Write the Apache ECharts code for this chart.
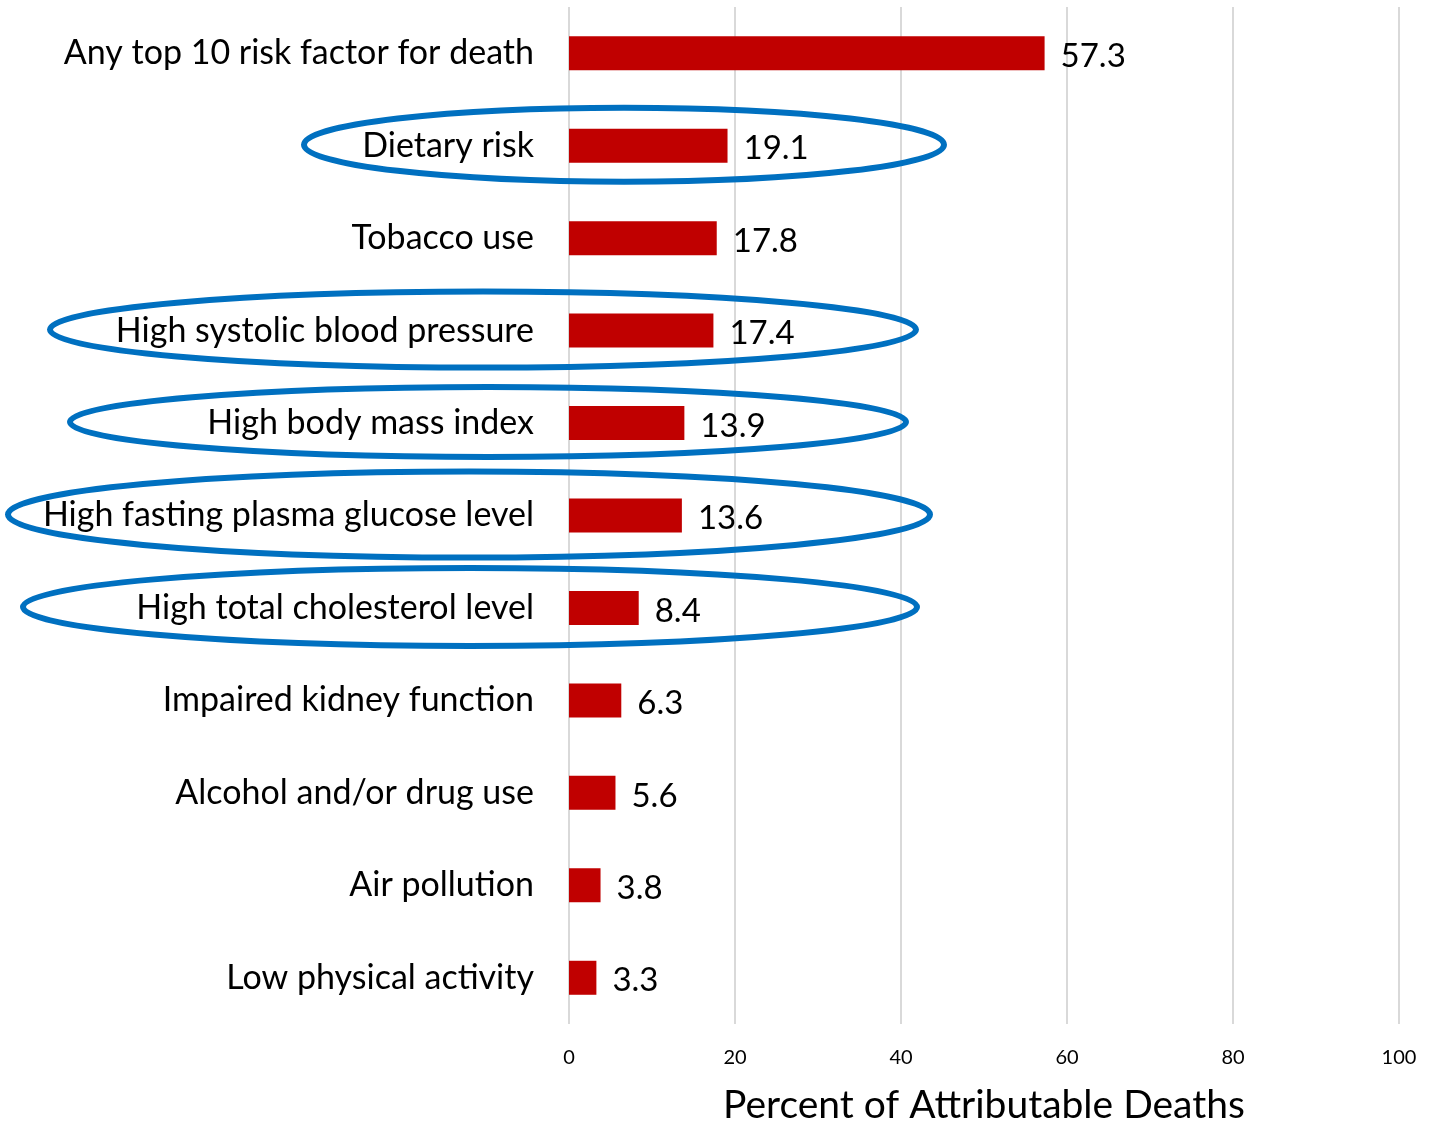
<!DOCTYPE html>
<html>
<head>
<meta charset="utf-8">
<script src="https://cdn.jsdelivr.net/npm/echarts@6/dist/echarts.min.js"></script>
<style>
  html, body { margin: 0; padding: 0; background: #fff; }
  #chartBox { width: 1434px; height: 1123px; }
</style>
</head>
<body>
<div id="chartBox"></div>
<script>
var riskNames = [
  'Any top 10 risk factor for death',
  'Dietary risk',
  'Tobacco use',
  'High systolic blood pressure',
  'High body mass index',
  'High fasting plasma glucose level',
  'High total cholesterol level',
  'Impaired kidney function',
  'Alcohol and/or drug use',
  'Air pollution',
  'Low physical activity'
]
var deathPct = [57.3, 19.1, 17.8, 17.4, 13.9, 13.6, 8.4, 6.3, 5.6, 3.8, 3.3]
var axisTicks = [0, 20, 40, 60, 80, 100]
var circled = ['Dietary risk', 'High systolic blood pressure', 'High body mass index',
  'High fasting plasma glucose level', 'High total cholesterol level']

var myChart = echarts.init(document.getElementById('chartBox'))
var fontName = 'Lato, "Open Sans", sans-serif'

var option = {
  backgroundColor: '#fff',
  animation: false,
  grid: { left: 569, right: 35, top: 7, bottom: 99, containLabel: false, outerBoundsMode: 'none' },
  xAxis: {
    type: 'value',
    min: axisTicks[0],
    max: axisTicks[axisTicks.length - 1],
    interval: 20,
    name: 'Percent of Attributable Deaths',
    nameLocation: 'middle',
    nameGap: 62,
    nameTextStyle: { fontSize: 39, color: '#000', fontFamily: fontName },
    axisLine: { show: false },
    axisTick: { show: false },
    axisLabel: { fontSize: 20, color: '#000', fontFamily: fontName, margin: 24 },
    splitLine: { show: true, lineStyle: { color: '#d9d9d9', width: 2 } }
  },
  yAxis: {
    type: 'category',
    inverse: true,
    data: riskNames,
    axisLine: { show: false },
    axisTick: { show: false },
    axisLabel: { fontSize: 34, color: '#000', fontFamily: fontName, margin: 35 }
  },
  series: [
    {
      type: 'bar',
      data: deathPct,
      barWidth: 34,
      itemStyle: { color: '#c00000' },
      label: {
        show: true,
        position: 'right',
        distance: 16,
        fontSize: 33,
        color: '#000',
        fontFamily: fontName,
        offset: [0, 3]
      }
    }
  ]
}

myChart.setOption(option)

// blue ovals drawn around the highlighted rows
var ovalShapes = {
  'Dietary risk': [624, 320, 37],
  'High systolic blood pressure': [483, 433, 38],
  'High body mass index': [488, 418, 35],
  'High fasting plasma glucose level': [469, 461, 43],
  'High total cholesterol level': [470, 447, 39]
}
var graphics = []
circled.forEach(function (name) {
  var y = myChart.convertToPixel({ yAxisIndex: 0 }, name)
  var s = ovalShapes[name]
  graphics.push({
    type: 'ellipse',
    shape: { cx: s[0], cy: y - 1, rx: s[1], ry: s[2] },
    style: { fill: 'none', stroke: '#0070c0', lineWidth: 6 },
    z: 100
  })
})
myChart.setOption({ graphic: graphics })
</script>
</body>
</html>
